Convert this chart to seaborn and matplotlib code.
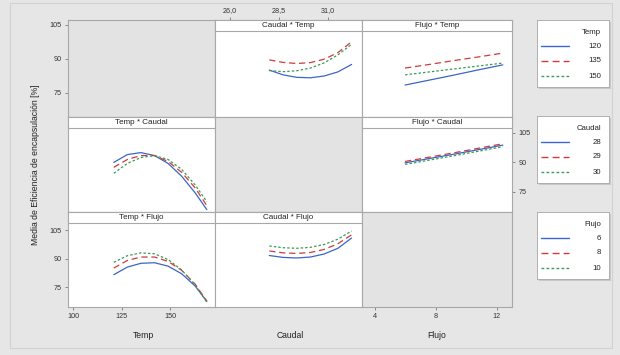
import matplotlib
matplotlib.use('Agg')
import matplotlib.pyplot as plt
import seaborn as sns
import pandas as pd
from matplotlib.patches import Rectangle

sns.set_theme(style='white')
plt.rcParams['font.family'] = ['Liberation Sans', 'DejaVu Sans']

# ---------------- data ----------------
temp_levels = ['120', '135', '150']
caudal_levels = ['28', '29', '30']
flujo_levels = ['6', '8', '10']

temp_x = [121, 128, 135, 142, 149, 156, 163, 169]
caudal_x = [28.0, 28.7, 29.4, 30.1, 30.8, 31.5, 32.2]
flujo_x = [6.0, 7.6, 9.2, 10.8, 12.4]

# Caudal * Temp (x = Caudal, lines = Temp)
ct_120 = [85.1, 83.0, 81.9, 81.7, 82.5, 84.3, 87.6]
ct_135 = [89.6, 88.5, 88.0, 88.4, 89.9, 92.8, 97.6]
ct_150 = [84.9, 84.4, 84.8, 86.0, 88.3, 91.8, 96.5]

# Flujo * Temp (x = Flujo, lines = Temp)
ft_120 = [78.5, 80.7, 82.9, 85.2, 87.4]
ft_135 = [86.0, 87.6, 89.3, 90.9, 92.6]
ft_150 = [83.0, 84.3, 85.6, 86.9, 88.2]

# Temp * Caudal (x = Temp, lines = Caudal)
tc_28 = [90.0, 94.0, 95.0, 93.5, 89.5, 83.0, 74.5, 66.0]
tc_29 = [87.5, 91.5, 93.5, 93.5, 90.5, 85.0, 77.0, 68.0]
tc_30 = [84.5, 89.5, 92.5, 93.5, 91.5, 86.5, 78.5, 70.0]

# Flujo * Caudal (x = Flujo, lines = Caudal)
fc_28 = [89.8, 92.0, 94.2, 96.5, 98.8]
fc_29 = [90.5, 92.7, 94.9, 97.2, 99.5]
fc_30 = [89.0, 91.2, 93.4, 95.7, 98.0]

# Temp * Flujo (x = Temp, lines = Flujo)
tf_6 = [81.5, 85.5, 87.5, 87.8, 86.0, 82.0, 75.5, 67.5]
tf_8 = [85.0, 89.0, 90.8, 90.8, 88.5, 83.8, 76.5, 67.5]
tf_10 = [88.0, 91.5, 93.0, 92.5, 89.5, 84.0, 76.0, 67.0]

# Caudal * Flujo (x = Caudal, lines = Flujo)
cf_6 = [91.6, 90.6, 90.3, 90.8, 92.4, 95.4, 100.8]
cf_8 = [94.0, 93.0, 92.7, 93.2, 94.8, 97.8, 102.5]
cf_10 = [96.6, 95.7, 95.4, 95.9, 97.4, 100.2, 104.5]

y_ticks = [75, 90, 105]
y_ticklabels = ['75', '90', '105']
temp_ticks = [100, 125, 150]
temp_ticklabels = ['100', '125', '150']
caudal_ticks = [26.0, 28.5, 31.0]
caudal_ticklabels = ['26,0', '28,5', '31,0']
flujo_ticks = [4, 8, 12]
flujo_ticklabels = ['4', '8', '12']

factor_names = ['Temp', 'Caudal', 'Flujo']
ylabel = 'Media de Eficiencia de encapsulación [%]'

# ---------------- styling ----------------
colors = ['#3a66c4', '#d23a3a', '#3d9a55']
dash_list = ['', (5, 3), (2, 1.6)]
BG = '#e6e6e6'
EDGE = '#a8a8a8'

W, H = 620, 355
fig = plt.figure(figsize=(W / 100, H / 100), dpi=100, facecolor=BG)

col_x = [(68, 215), (215, 362), (362, 512)]
row_y = [(20, 117), (117, 212), (212, 307)]
xlims = {0: (97.4, 173.2), 1: (25.23, 32.73), 2: (3.18, 13.0)}
ylims = {0: (64.4, 107.2), 1: (64.8, 113.1), 2: (64.5, 114.5)}


def px_rect(x0, y0, x1, y1):
    return [x0 / W, 1 - y1 / H, (x1 - x0) / W, (y1 - y0) / H]


# outer frame
frame_ax = fig.add_axes([0, 0, 1, 1], zorder=-10)
frame_ax.set_xlim(0, W)
frame_ax.set_ylim(H, 0)
frame_ax.axis('off')
frame_ax.add_patch(Rectangle((10, 3), 602, 345, fill=False,
                             edgecolor='#d2d2d2', linewidth=0.8))


def make_df(xs, series, levels):
    rows = []
    for lev, ys in zip(levels, series):
        for xv, yv in zip(xs, ys):
            rows.append({'x': xv, 'y': yv, 'grp': lev})
    return pd.DataFrame(rows)


panels = {
    (0, 1): (caudal_x, [ct_120, ct_135, ct_150], temp_levels, 'Caudal * Temp'),
    (0, 2): (flujo_x, [ft_120, ft_135, ft_150], temp_levels, 'Flujo * Temp'),
    (1, 0): (temp_x, [tc_28, tc_29, tc_30], caudal_levels, 'Temp * Caudal'),
    (1, 2): (flujo_x, [fc_28, fc_29, fc_30], caudal_levels, 'Flujo * Caudal'),
    (2, 0): (temp_x, [tf_6, tf_8, tf_10], flujo_levels, 'Temp * Flujo'),
    (2, 1): (caudal_x, [cf_6, cf_8, cf_10], flujo_levels, 'Caudal * Flujo'),
}

axes = {}
for r in range(3):
    for c in range(3):
        x0, x1 = col_x[c]
        y0, y1 = row_y[r]
        ax = fig.add_axes(px_rect(x0, y0, x1, y1))
        axes[(r, c)] = ax
        ax.set_xlim(*xlims[c])
        ax.set_ylim(*ylims[r])
        for s in ax.spines.values():
            s.set_color(EDGE)
            s.set_linewidth(0.8)
        ax.tick_params(left=False, bottom=False, labelleft=False, labelbottom=False)
        ax.set_xlabel('')
        ax.set_ylabel('')
        if r == c:
            ax.set_facecolor('#e3e3e3')
            continue
        ax.set_facecolor('white')
        xs, series, levels, title = panels[(r, c)]
        df = make_df(xs, series, levels)
        sns.lineplot(data=df, x='x', y='y', hue='grp', style='grp',
                     hue_order=levels, style_order=levels,
                     palette=dict(zip(levels, colors)),
                     dashes=dict(zip(levels, dash_list)),
                     estimator=None, sort=False, legend=False,
                     linewidth=0.9, ax=ax)
        ax.set_xlabel('')
        ax.set_ylabel('')
        ax.set_xlim(*xlims[c])
        ax.set_ylim(*ylims[r])
        sh = 11 / (y1 - y0)
        ax.add_patch(Rectangle((0, 1 - sh), 1, sh, transform=ax.transAxes,
                               facecolor='white', edgecolor=EDGE,
                               linewidth=0.8, zorder=10, clip_on=False))
        ax.text(0.5, 1 - sh / 2, title, transform=ax.transAxes, ha='center',
                va='center', fontsize=5.8, color='#222222', zorder=11)

tick_kw = dict(labelsize=5.2, labelcolor='#333333', length=2.5, width=0.6,
               color='#777777', pad=2)

# y ticks
for key in [(0, 0), (2, 0)]:
    ax = axes[key]
    ax.set_yticks(y_ticks)
    ax.set_yticklabels(y_ticklabels)
    ax.tick_params(axis='y', left=True, labelleft=True, direction='out', **tick_kw)
ax = axes[(1, 2)]
ax.set_yticks(y_ticks)
ax.set_yticklabels(y_ticklabels)
ax.yaxis.set_ticks_position('right')
ax.tick_params(axis='y', right=True, labelright=True, left=False, labelleft=False,
               direction='out', **tick_kw)

# x ticks
ax = axes[(0, 1)]
ax.set_xticks(caudal_ticks)
ax.set_xticklabels(caudal_ticklabels)
ax.xaxis.set_ticks_position('top')
ax.tick_params(axis='x', top=True, labeltop=True, bottom=False, labelbottom=False,
               direction='out', **tick_kw)
ax = axes[(2, 0)]
ax.set_xticks(temp_ticks)
ax.set_xticklabels(temp_ticklabels)
ax.tick_params(axis='x', bottom=True, labelbottom=True, direction='out', **tick_kw)
ax = axes[(2, 2)]
ax.set_xticks(flujo_ticks)
ax.set_xticklabels(flujo_ticklabels)
ax.tick_params(axis='x', bottom=True, labelbottom=True, direction='out', **tick_kw)

# axis titles
for name, xp in zip(factor_names, [143, 290, 437]):
    fig.text(xp / W, 1 - 335 / H, name, ha='center', va='center',
             fontsize=6.2, color='#222222')
fig.text(36 / W, 1 - 165 / H, ylabel, rotation=90, ha='center', va='center',
         fontsize=6.2, color='#222222')

# legends
legend_specs = [('Temp', temp_levels, 20), ('Caudal', caudal_levels, 116),
                ('Flujo', flujo_levels, 212)]
for title, levels, top in legend_specs:
    bx0, bx1 = 537, 609
    by0, by1 = top, top + 67
    # shadow
    frame_ax.add_patch(Rectangle((bx0 + 2, by0 + 2), bx1 - bx0, by1 - by0,
                                 facecolor='#c8c8c8', edgecolor='none'))
    lax = fig.add_axes(px_rect(bx0, by0, bx1, by1), zorder=5)
    lax.set_facecolor('white')
    lax.set_xlim(0, bx1 - bx0)
    lax.set_ylim(by1 - by0, 0)
    lax.set_xticks([])
    lax.set_yticks([])
    for s in lax.spines.values():
        s.set_color('#b0b0b0')
        s.set_linewidth(0.7)
    lax.text(64, 12, title, ha='right', va='center', fontsize=5.6, color='#222222')
    for i, lev in enumerate(levels):
        yy = 26 + i * 15
        ln, = lax.plot([4, 32], [yy, yy], color=colors[i], linewidth=1.0)
        if dash_list[i]:
            ln.set_dashes(dash_list[i])
        lax.text(64, yy, lev, ha='right', va='center', fontsize=5.6, color='#222222')

fig.savefig('out.png', dpi=100, facecolor=BG)
